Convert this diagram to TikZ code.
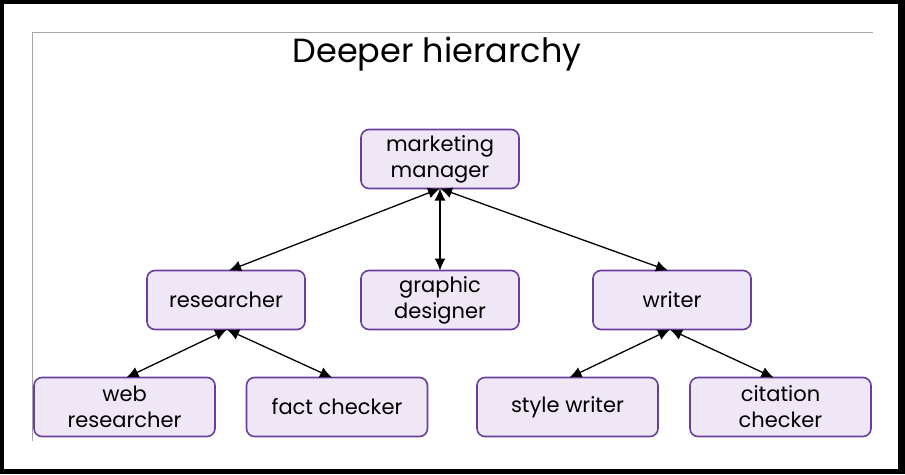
\documentclass[tikz,border=0pt]{standalone}
\usepackage{fontspec}
\setmainfont{Poppins}
\usetikzlibrary{arrows.meta}
\definecolor{boxfill}{HTML}{EFE7F6}
\definecolor{boxline}{HTML}{6A3D9E}
\tikzset{
  role/.style={draw=boxline, fill=boxfill, line width=1.6pt, rounded corners=8pt,
    minimum width=158pt, minimum height=59pt, align=center, inner sep=2pt,
    font=\fontsize{21}{26}\selectfont, text=black},
  wide/.style={role, minimum width=181pt},
  link/.style={line width=1.3pt, {Latex[length=12pt,width=11pt]}-{Latex[length=12pt,width=11pt]}}
}
\begin{document}
\begin{tikzpicture}[x=1pt,y=-1pt]
\useasboundingbox (0,0) rectangle (905,474);
\fill[black] (0,0) rectangle (905,474);
\fill[white] (4,4) rectangle (898,469);
\draw[black!35, line width=1pt] (32,441) -- (32,32) -- (873,32);
\node[font=\fontsize{33.5}{40}\selectfont, anchor=base] (title) at (437,62) {Deeper hierarchy};
\node[role] (mm) at (440,159) {marketing\\manager};
\node[role] (res) at (226,300) {researcher};
\node[role] (gd) at (440,300) {graphic\\designer};
\node[role] (wr) at (672,300) {writer};
\node[wide] (web) at (124.5,407) {web\\researcher};
\node[wide] (fc) at (337,407) {fact checker};
\node[wide] (sw) at (567.5,407) {style writer};
\node[wide] (cc) at (780.5,407) {citation\\checker};
\coordinate (mmb) at ([yshift=0.8pt]mm.south);
\coordinate (resb) at ([xshift=1pt,yshift=0.8pt]res.south);
\coordinate (wrb) at ([xshift=-2pt,yshift=0.8pt]wr.south);
\draw[link] (mmb) -- ([xshift=3pt,yshift=-0.8pt]res.north);
\draw[link] (mmb) -- ([yshift=-0.8pt]gd.north);
\draw[link] (mmb) -- ([xshift=-4pt,yshift=-0.8pt]wr.north);
\draw[link] (resb) -- ([xshift=2pt,yshift=-0.8pt]web.north);
\draw[link] (resb) -- ([xshift=-5pt,yshift=-0.8pt]fc.north);
\draw[link] (wrb) -- ([xshift=2pt,yshift=-0.8pt]sw.north);
\draw[link] (wrb) -- ([xshift=-7pt,yshift=-0.8pt]cc.north);
\end{tikzpicture}
\end{document}
